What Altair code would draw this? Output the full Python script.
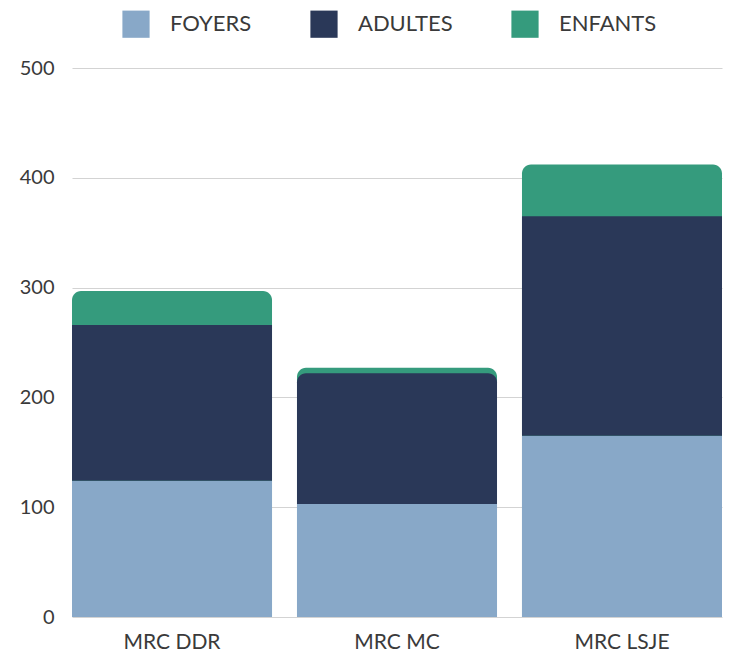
import altair as alt
import pandas as pd

categories = ["MRC DDR", "MRC MC", "MRC LSJE"]
series = ["FOYERS", "ADULTES", "ENFANTS"]
foyers = [124, 103, 165]
adultes = [142, 119, 200]
enfants = [31, 5, 47]
colors = ["#88a8c8", "#2a3858", "#359b7d"]

rows = []
for i, c in enumerate(categories):
    for j, (s, vals) in enumerate(zip(series, [foyers, adultes, enfants])):
        rows.append({"mrc": c, "serie": s, "ordre": j, "valeur": vals[i]})
df = pd.DataFrame(rows)

FONT = "Lato"
R = 9

base = (
    alt.Chart(df)
    .transform_stack(stack="valeur", as_=["y0", "y1"], groupby=["mrc"], sort=[alt.SortField("ordre")])
    .transform_joinaggregate(total="sum(valeur)", groupby=["mrc"])
    .transform_calculate(gap="datum.total - datum.y1", zero="0")
)

xenc = alt.X(
    "mrc:N",
    sort=categories,
    title=None,
    scale=alt.Scale(paddingInner=0.111, paddingOuter=0),
    axis=alt.Axis(labelAngle=0, ticks=False, domain=False, labelPadding=14,
                  labelFontSize=21, labelFont=FONT, labelColor="#3a3a3a"),
)
yscale = alt.Scale(domain=[0, 500])
yaxis = alt.Axis(values=[0, 100, 200, 300, 400, 500], ticks=False, domain=False,
                 labelPadding=18, labelFontSize=20, labelFont=FONT, labelColor="#3a3a3a",
                 gridColor="#d3d3d3", gridWidth=1)
cenc = alt.Color(
    "serie:N",
    scale=alt.Scale(domain=series, range=colors),
    legend=alt.Legend(title=None, orient="none", direction="horizontal", legendX=50, legendY=-58,
                      symbolType="square", symbolSize=740, symbolStrokeWidth=0,
                      labelFont=FONT, labelFontSize=22, labelColor="#3a3a3a",
                      labelOffset=20, columnPadding=58),
)

top_layer = base.transform_filter("datum.serie == 'ENFANTS'").mark_bar(
    cornerRadiusTopLeft=R, cornerRadiusTopRight=R
).encode(x=xenc, y=alt.Y("y1:Q", scale=yscale, axis=yaxis, title=None), y2="zero:Q", color=cenc)

square_layer = base.transform_filter(f"datum.serie != 'ENFANTS' && datum.gap >= {R}").mark_bar().encode(
    x=xenc, y=alt.Y("y1:Q", scale=yscale, title=None), y2="y0:Q", color=cenc
)

round_layer = base.transform_filter(f"datum.serie != 'ENFANTS' && datum.gap < {R}").mark_bar(
    cornerRadiusTopLeft=R, cornerRadiusTopRight=R
).encode(x=xenc, y=alt.Y("y1:Q", scale=yscale, title=None), y2="y0:Q", color=cenc)

chart = (
    alt.layer(top_layer, square_layer, round_layer)
    .properties(width=650, height=549, autosize=alt.AutoSizeParams(type="none"),
                padding={"left": 64, "top": 60, "right": 2, "bottom": 42})
    .configure(font=FONT)
    .configure_view(strokeWidth=0)
)

chart.save("out.html", embed_options={"renderer": "svg", "actions": False})
